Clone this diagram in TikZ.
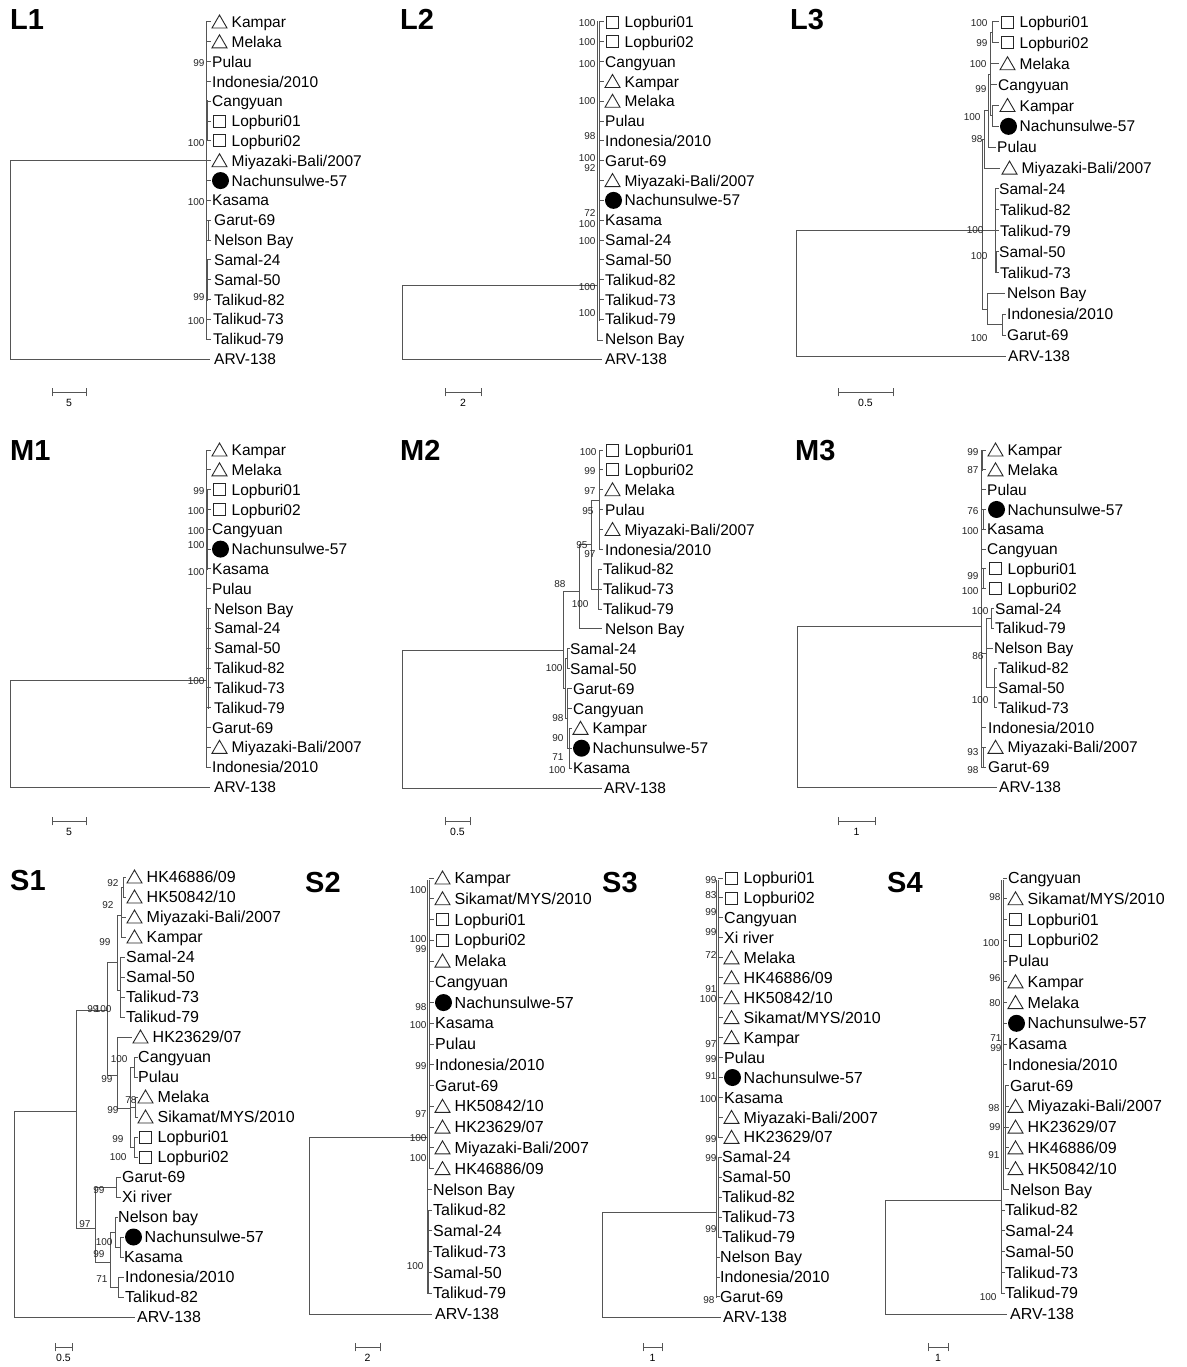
\documentclass[tikz,border=0pt]{standalone}
\usepackage{fontspec}
\setmainfont{Liberation Sans}
\definecolor{brc}{RGB}{85,85,85}
\tikzset{
  br/.style={draw=brc,line width=1pt,line cap=rect},
  symd/.style={draw=black!85,line width=0.9pt,line join=miter},
  lab/.style={anchor=base west,inner sep=0pt,font=\fontsize{15.5}{18}\selectfont},
  labS/.style={anchor=base west,inner sep=0pt,font=\fontsize{16}{18}\selectfont},
  bs/.style={anchor=east,inner sep=0.3pt,font=\fontsize{10}{10}\selectfont,text=black!85},
  ttl/.style={anchor=base west,inner sep=0pt,font=\fontsize{29}{32}\selectfont\bfseries},
  sbl/.style={inner sep=0pt,font=\fontsize{10.5}{11}\selectfont},
}
\newcommand\leafset[5]{%
  \foreach \Lx/\Lk/\Ltxt [count=\Li from 0] in {#5}{%
    \pgfmathsetmacro\Ly{#2+\Li*#3}%
    \if t\Lk \draw[symd] (\Lx,\Ly+6) -- ++(15,0) -- ++(-7.5,-13) -- cycle;\fi
    \if s\Lk \draw[symd] (\Lx+1,\Ly-6) rectangle ++(12,12);\fi
    \if c\Lk \fill[black] (\Lx+8.5,\Ly) circle (8.5pt);\fi
    \if p\Lk
      \node[#4] (#1-\Li) at (\Lx,\Ly+5.6) {\Ltxt};%
    \else
      \node[#4] (#1-\Li) at (\Lx+19.5,\Ly+5.6) {\Ltxt};%
    \fi
  }%
}
\newcommand\ticks[5]{\foreach \Tj in {#5}{\draw[br] (#1,{#3+\Tj*#4}) -- (#2,{#3+\Tj*#4});}}
\newcommand\boots[2]{\foreach \bx/\by/\bt [count=\bi] in {#2}{\node[bs] (#1b\bi) at (\bx,\by) {\bt};}}
\newcommand\sbar[5]{%
  \draw[br,line width=0.9pt] (#1,#3-4) -- (#1,#3+4) (#1,#3) -- (#2,#3) (#2,#3-4) -- (#2,#3+4);
  \node[sbl] (#5) at ({(#1+#2)/2},#3+11) {#4};}
\begin{document}
\begin{tikzpicture}[x=1pt,y=-1pt]
\useasboundingbox (0,0) rectangle (1186,1367);
\fill[white] (0,0) rectangle (1186,1367);
% ---------------- titles
\node[ttl] (tL1) at (10,30) {L1};
\node[ttl] (tL2) at (400,30) {L2};
\node[ttl] (tL3) at (790,30) {L3};
\node[ttl] (tM1) at (10,460) {M1};
\node[ttl] (tM2) at (400,460) {M2};
\node[ttl] (tM3) at (795,460) {M3};
\node[ttl] (tS1) at (10,890) {S1};
\node[ttl] (tS2) at (305,892) {S2};
\node[ttl] (tS3) at (602,892) {S3};
\node[ttl] (tS4) at (887,892) {S4};
% ================= L1
\draw[br] (206,161) -- (10,161) -- (10,359) -- (209,359);
\draw[br] (206,22) -- (206,339);
\ticks{206}{210}{22}{19.82}{0,...,16}
\draw[br] (207.5,101) -- (207.5,141) (208,220) -- (208,240) (207.5,260) -- (207.5,300);
\leafset{L1}{22}{19.82}{lab}{212/t/Kampar,212/t/Melaka,212/p/Pulau,212/p/{Indonesia/2010},212/p/Cangyuan,212/s/Lopburi01,212/s/Lopburi02,212/t/{Miyazaki-Bali/2007},212/c/Nachunsulwe-57,212/p/Kasama,214/p/Garut-69,214/p/{Nelson Bay},214/p/Samal-24,214/p/Samal-50,214/p/Talikud-82,213/p/Talikud-73,213/p/Talikud-79,214/p/ARV-138}
\boots{L1}{205/63/99,205/143/100,205/202/100,205/297/99,205/321/100}
\sbar{52}{86}{392}{5}{sL1}
% ================= L2
\draw[br] (597,285) -- (402,285) -- (402,359) -- (601,359);
\draw[br] (597,22) -- (597,340) -- (602,340);
\draw[br] (599.5,22) -- (599.5,320);
\ticks{599.5}{603}{22}{19.82}{0,...,15}
\leafset{L2}{22}{19.82}{lab}{605/s/Lopburi01,605/s/Lopburi02,605/p/Cangyuan,605/t/Kampar,605/t/Melaka,605/p/Pulau,605/p/{Indonesia/2010},605/p/Garut-69,605/t/{Miyazaki-Bali/2007},605/c/Nachunsulwe-57,605/p/Kasama,605/p/Samal-24,605/p/Samal-50,605/p/Talikud-82,605/p/Talikud-73,605/p/Talikud-79,605/p/{Nelson Bay},605/p/ARV-138}
\boots{L2}{596/23/100,596/42/100,596/64/100,596/101/100,596/136/98,596/158/100,596/168/92,596/213/72,596/224/100,596/241/100,596/287/100,596/313/100}
\sbar{445}{481}{392}{2}{sL2}
% ================= L3
\draw[br] (995,230.75) -- (796,230.75) -- (796,356) -- (1005,356);
\draw[br] (982,139.5) -- (982,309);
\draw[br] (982,139.5) -- (984,139.5) (984,111) -- (984,168.1) -- (999,168.1);
\draw[br] (984,111) -- (988,111) (988,75) -- (988,147.25) -- (995,147.25);
\draw[br] (988,75) -- (990,75) (990,32.5) -- (990,116);
\draw[br] (990,32.5) -- (992,32.5) (992,22) -- (992,42.9);
\ticks{992}{998}{22}{20.875}{0,1}
\draw[br] (990,63.75) -- (998,63.75) (990,84.6) -- (996,84.6);
\draw[br] (990,116) -- (992,116) (992,105.5) -- (992,126.4);
\ticks{992}{998}{22}{20.875}{4,5}
\draw[br] (995,189) -- (995,272.5);
\ticks{995}{998}{22}{20.875}{8,9,10}
\draw[br] (995,262) -- (996.5,262) (996.5,251.6) -- (996.5,272.5);
\ticks{996.5}{998}{22}{20.875}{11,12}
\draw[br] (982,309) -- (987,309) (987,293.4) -- (987,324.7);
\draw[br] (987,293.4) -- (1004,293.4) (987,324.7) -- (1002,324.7) (1002,314.25) -- (1002,335.1);
\ticks{1002}{1005}{22}{20.875}{14,15}
\leafset{L3}{22}{20.875}{lab}{1000/s/Lopburi01,1000/s/Lopburi02,1000/t/Melaka,998/p/Cangyuan,1000/t/Kampar,1000/c/Nachunsulwe-57,997/p/Pulau,1002/t/{Miyazaki-Bali/2007},999/p/Samal-24,1000/p/Talikud-82,1000/p/Talikud-79,999/p/Samal-50,1000/p/Talikud-73,1007/p/{Nelson Bay},1007/p/{Indonesia/2010},1007/p/Garut-69,1008/p/ARV-138}
\boots{L3}{988/23/100,988/43/99,987/64/100,987/89/99,981/117/100,983/139/98,984/230/100,988/256/100,988/338/100}
\sbar{838}{893}{392}{0.5}{sL3}
% ================= M1
\draw[br] (206,680) -- (10,680) -- (10,787) -- (209,787);
\draw[br] (206,450) -- (206,767);
\ticks{206}{210}{450}{19.82}{0,...,16}
\draw[br] (208,609) -- (208,708) (207.5,490) -- (207.5,569);
\leafset{M1}{450}{19.82}{lab}{212/t/Kampar,212/t/Melaka,212/s/Lopburi01,212/s/Lopburi02,212/p/Cangyuan,212/c/Nachunsulwe-57,212/p/Kasama,212/p/Pulau,214/p/{Nelson Bay},214/p/Samal-24,214/p/Samal-50,214/p/Talikud-82,214/p/Talikud-73,214/p/Talikud-79,212/p/Garut-69,212/t/{Miyazaki-Bali/2007},212/p/{Indonesia/2010},214/p/ARV-138}
\boots{M1}{205/491/99,205/511/100,205/531/100,205/545/100,205/572/100,205/681/100}
\sbar{52}{86}{821}{5}{sM1}
% ================= M2
\draw[br] (563,650) -- (402,650) -- (402,788) -- (601,788);
\draw[br] (563,591) -- (563,688);
\draw[br] (563,591) -- (579,591) (579,544.6) -- (579,628.9) -- (601,628.9);
\draw[br] (579,544.6) -- (591,544.6) (591,500) -- (591,589.2);
\draw[br] (591,500) -- (599,500) (599,450) -- (599,549.4);
\ticks{599}{602}{450}{19.88}{0,...,5}
\draw[br] (591,589.2) -- (598,589.2) (598,569.3) -- (598,609);
\ticks{598}{601}{450}{19.88}{6,7,8}
\draw[br] (563,688) -- (565,688) (565,658.7) -- (565,718);
\draw[br] (565,658.7) -- (567,658.7) (567,648.8) -- (567,668.7);
\ticks{567}{569}{450}{19.88}{10,11}
\draw[br] (565,718) -- (567,718) (567,688.6) -- (567,748.2);
\ticks{567}{571}{450}{19.88}{12,13}
\draw[br] (567,748.2) -- (569,748.2) (569,728.3) -- (569,768.1);
\ticks{569}{571}{450}{19.88}{14,15,16}
\leafset{M2}{450}{19.88}{lab}{605/s/Lopburi01,605/s/Lopburi02,605/t/Melaka,605/p/Pulau,605/t/{Miyazaki-Bali/2007},605/p/{Indonesia/2010},603/p/Talikud-82,603/p/Talikud-73,603/p/Talikud-79,605/p/{Nelson Bay},570/p/Samal-24,570/p/Samal-50,573/p/Garut-69,573/p/Cangyuan,573/t/Kampar,573/c/Nachunsulwe-57,573/p/Kasama,604/p/ARV-138}
\boots{M2}{597/452/100,596/471/99,596/491/97,594/511/95,588/545/95,596/554/97,566/584/88,589/604/100,563/668/100,564/718/98,564/738/90,564/757/71,566/770/100}
\sbar{445}{470}{821}{0.5}{sM2}
% ================= M3
\draw[br] (981,626) -- (797,626) -- (797,787) -- (996,787);
\draw[br] (981,450) -- (981,767.1);
\ticks{981}{985}{450}{19.82}{0,...,7,14,15,16}
\draw[br] (982.5,450) -- (982.5,470) (983,509.5) -- (983,529.3) (983,568.9) -- (983,588.7) (983,747.3) -- (983,767.1);
\draw[br] (981,653) -- (986,653) (986,618.5) -- (986,687.8);
\draw[br] (986,618.5) -- (991,618.5) (991,608.6) -- (991,628.4);
\ticks{991}{993}{450}{19.82}{8,9}
\draw[br] (986,648.2) -- (992,648.2);
\draw[br] (986,687.8) -- (994,687.8) (994,668) -- (994,707.7);
\ticks{994}{996}{450}{19.82}{11,12,13}
\leafset{M3}{450}{19.82}{lab}{988/t/Kampar,988/t/Melaka,987/p/Pulau,988/c/Nachunsulwe-57,987/p/Kasama,987/p/Cangyuan,988/s/Lopburi01,988/s/Lopburi02,995/p/Samal-24,995/p/Talikud-79,994/p/{Nelson Bay},998/p/Talikud-82,998/p/Samal-50,998/p/Talikud-73,988/p/{Indonesia/2010},988/t/{Miyazaki-Bali/2007},988/p/Garut-69,999/p/ARV-138}
\boots{M3}{979/452/99,979/470/87,979/511/76,979/531/100,979/576/99,979/591/100,989/611/100,984/656/86,989/700/100,979/752/93,979/770/98}
\sbar{838}{875}{821}{1}{sM3}
% ================= S1
\draw[br] (76,1111) -- (14,1111) -- (14,1317) -- (134,1317);
\draw[br] (76,1010) -- (76,1228);
\draw[br] (76,1010) -- (107,1010) (107,962) -- (107,1075);
\draw[br] (107,962) -- (117,962) (117,915) -- (117,990);
\draw[br] (117,915) -- (121,915) (121,887) -- (121,937) (121,887) -- (123,887) (123,877) -- (123,897);
\ticks{123}{125}{877}{20}{0,1}
\ticks{121}{125}{877}{20}{2,3}
\draw[br] (117,990) -- (120,990) (120,957) -- (120,1017);
\ticks{120}{124}{877}{20}{4,5,6,7}
\draw[br] (107,1075) -- (117,1075) (117,1037) -- (117,1108) (117,1037) -- (131,1037);
\draw[br] (117,1108) -- (130,1108) (130,1067) -- (130,1147);
\draw[br] (130,1067) -- (134,1067) (134,1057) -- (134,1077);
\ticks{134}{137}{877}{20}{9,10}
\draw[br] (130,1107) -- (135,1107) (135,1097) -- (135,1117);
\ticks{135}{137}{877}{20}{11,12}
\draw[br] (130,1147) -- (134,1147) (134,1137) -- (134,1157);
\ticks{134}{137}{877}{20}{13,14}
\draw[br] (76,1228) -- (95,1228) (95,1187) -- (95,1262);
\draw[br] (95,1187) -- (116,1187) (116,1177) -- (116,1197);
\ticks{116}{120}{877}{20}{15,16}
\draw[br] (95,1262) -- (110,1262) (110,1232) -- (110,1287);
\draw[br] (110,1232) -- (115,1232) (115,1217) -- (115,1247) (115,1217) -- (117,1217);
\draw[br] (115,1247) -- (120,1247) (120,1237) -- (120,1257);
\ticks{120}{123}{877}{20}{18,19}
\draw[br] (110,1287) -- (118,1287) (118,1277) -- (118,1297);
\ticks{118}{123}{877}{20}{20,21}
\leafset{S1}{877}{20}{labS}{127/t/{HK46886/09},127/t/{HK50842/10},127/t/{Miyazaki-Bali/2007},127/t/Kampar,126/p/Samal-24,126/p/Samal-50,126/p/Talikud-73,126/p/Talikud-79,133/t/{HK23629/07},138/p/Cangyuan,138/p/Pulau,138/t/Melaka,138/t/{Sikamat/MYS/2010},138/s/Lopburi01,138/s/Lopburi02,122/p/Garut-69,122/p/{Xi river},118/p/{Nelson bay},125/c/Nachunsulwe-57,124/p/Kasama,125/p/{Indonesia/2010},125/p/Talikud-82,137/p/ARV-138}
\boots{S1}{119/883/92,114/905/92,111/942/99,99/1009/99,112/1009/100,128/1059/100,113/1079/99,137/1100/78,119/1110/99,124/1139/99,127/1157/100,105/1190/99,91/1224/97,113/1242/100,105/1254/99,108/1279/71}
\sbar{55}{72}{1347}{0.5}{sS1}
% ================= S2
\draw[br] (427,1137) -- (309,1137) -- (309,1314) -- (431,1314);
\draw[br] (427,880) -- (427,1293.2);
\draw[br] (429.5,880) -- (429.5,1168.6);
\ticks{429.5}{433}{878}{20.76}{0,...,14}
\draw[br] (427,1189.4) -- (431,1189.4);
\draw[br] (428.5,1210.2) -- (428.5,1293.2);
\ticks{428.5}{431}{878}{20.76}{16,...,20}
\leafset{S2}{878}{20.76}{labS}{435/t/Kampar,435/t/{Sikamat/MYS/2010},435/s/Lopburi01,435/s/Lopburi02,435/t/Melaka,435/p/Cangyuan,435/c/Nachunsulwe-57,435/p/Kasama,435/p/Pulau,435/p/{Indonesia/2010},435/p/Garut-69,435/t/{HK50842/10},435/t/{HK23629/07},435/t/{Miyazaki-Bali/2007},435/t/{HK46886/09},433/p/{Nelson Bay},433/p/Talikud-82,433/p/Samal-24,433/p/Talikud-73,433/p/Samal-50,433/p/Talikud-79,435/p/ARV-138}
\boots{S2}{427/890/100,427/939/100,427/949/99,427/1007/98,427/1025/100,427/1066/99,427/1114/97,427/1138/100,427/1158/100,424/1266/100}
\sbar{355}{380}{1347}{2}{sS2}
% ================= S3
\draw[br] (716,1212) -- (602,1212) -- (602,1317) -- (720,1317);
\draw[br] (716,880) -- (716,1297);
\draw[br] (718,880) -- (718,1137);
\ticks{718}{722}{878}{19.95}{0,...,13}
\draw[br] (718,1157) -- (718,1237);
\ticks{718}{721}{878}{19.95}{14,...,18}
\ticks{716}{719}{878}{19.95}{19,20,21}
\leafset{S3}{878}{19.95}{labS}{724/s/Lopburi01,724/s/Lopburi02,724/p/Cangyuan,724/p/{Xi river},724/t/Melaka,724/t/{HK46886/09},724/t/{HK50842/10},724/t/{Sikamat/MYS/2010},724/t/Kampar,724/p/Pulau,724/c/Nachunsulwe-57,724/p/Kasama,724/t/{Miyazaki-Bali/2007},724/t/{HK23629/07},722/p/Samal-24,722/p/Samal-50,722/p/Talikud-82,722/p/Talikud-73,722/p/Talikud-79,720/p/{Nelson Bay},720/p/{Indonesia/2010},720/p/Garut-69,723/p/ARV-138}
\boots{S3}{717/880/99,717/895/83,717/912/99,717/932/99,717/955/72,717/989/91,717/999/100,717/1044/97,717/1059/99,717/1076/91,717/1099/100,717/1139/99,717/1158/99,717/1229/99,715/1300/98}
\sbar{643}{662}{1347}{1}{sS3}
% ================= S4
\draw[br] (1001,1200) -- (885,1200) -- (885,1314) -- (1006,1314);
\draw[br] (1001,880) -- (1001,1293.2);
\draw[br] (1003,880) -- (1003,1189.4) -- (1008,1189.4);
\ticks{1003}{1006}{878}{20.76}{0,...,9}
\draw[br] (1003,1127) -- (1005.5,1127) (1005.5,1085.6) -- (1005.5,1168.6);
\ticks{1005.5}{1008}{878}{20.76}{10,...,14}
\ticks{1001}{1004}{878}{20.76}{16,...,20}
\leafset{S4}{878}{20.76}{labS}{1008/p/Cangyuan,1008/t/{Sikamat/MYS/2010},1008/s/Lopburi01,1008/s/Lopburi02,1008/p/Pulau,1008/t/Kampar,1008/t/Melaka,1008/c/Nachunsulwe-57,1008/p/Kasama,1008/p/{Indonesia/2010},1010/p/Garut-69,1008/t/{Miyazaki-Bali/2007},1008/t/{HK23629/07},1008/t/{HK46886/09},1008/t/{HK50842/10},1010/p/{Nelson Bay},1005/p/Talikud-82,1005/p/Samal-24,1005/p/Samal-50,1005/p/Talikud-73,1005/p/Talikud-79,1010/p/ARV-138}
\boots{S4}{1001/897/98,1000/943/100,1001/978/96,1001/1003/80,1002/1038/71,1002/1048/99,1000/1108/98,1001/1127/99,1000/1155/91,997/1297/100}
\sbar{928}{948}{1347}{1}{sS4}
\end{tikzpicture}
\end{document}
